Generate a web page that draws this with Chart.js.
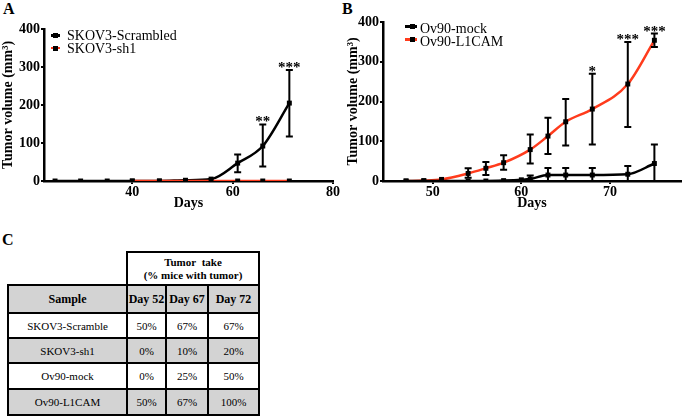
<!DOCTYPE html>
<html>
<head>
<meta charset="utf-8">
<script src="https://cdn.jsdelivr.net/npm/chart.js@4/dist/chart.umd.min.js"></script>
<style>
  body { margin:0; background:#fff; width:685px; height:416px; position:relative; overflow:hidden;
         font-family:"Liberation Serif","Times New Roman",serif; color:#000; }
  .panel { position:absolute; font-weight:bold; font-size:16px; line-height:16px; }
  canvas { position:absolute; top:0; }
  #ca { left:0; }
  #cb { left:345px; }
  .leg { position:absolute; font-size:14px; line-height:12.5px; white-space:nowrap; }
  .leg .row { position:relative; height:12.5px; }
  .sym { position:absolute; height:2.5px; }
  .sq { position:absolute; width:5px; height:5px; background:#000; }
  table { position:absolute; left:7px; top:251px; border-collapse:collapse; table-layout:fixed;
          font-family:"Liberation Serif","Times New Roman",serif; }
  td { border:2px solid #000; text-align:center; padding:0; font-size:11px;
       font-family:"Liberation Serif","Times New Roman",serif; }
  td.h { font-weight:bold; font-size:12px; }
  tr.g td { background:#d3d3d3; }
  td.empty { border-top:none; border-left:none; background:#fff; }
</style>
</head>
<body>
<div class="panel" style="left:3px;top:1px">A</div>
<div class="panel" style="left:342px;top:1px">B</div>
<div class="panel" style="left:2px;top:232px">C</div>

<canvas id="ca" width="350" height="212"></canvas>
<canvas id="cb" width="340" height="212"></canvas>

<div class="leg" style="left:51px;top:30px">
  <div class="row"><span class="sym" style="left:0;width:9px;top:4px;background:#000"></span><span class="sq" style="left:2px;top:3px"></span><span style="position:absolute;left:16px">SKOV3-Scrambled</span></div>
  <div class="row"><span class="sym" style="left:0;width:9px;top:4px;background:#ff3b1c"></span><span class="sq" style="left:2px;top:3px"></span><span style="position:absolute;left:16px">SKOV3-sh1</span></div>
</div>
<div class="leg" style="left:405px;top:22px;line-height:13.3px">
  <div class="row" style="height:13.3px"><span class="sym" style="left:0;width:12px;top:3px;background:#000"></span><span class="sq" style="left:5px;top:2px"></span><span style="position:absolute;left:15px">Ov90-mock</span></div>
  <div class="row" style="height:13.3px"><span class="sym" style="left:0;width:12px;top:3px;background:#ff3b1c"></span><span class="sq" style="left:5px;top:2px"></span><span style="position:absolute;left:15px">Ov90-L1CAM</span></div>
</div>

<table id="tbl">
  <colgroup><col style="width:119px"><col style="width:39px"><col style="width:42px"><col style="width:51px"></colgroup>
</table>

<script>
// Panel A
const daysA = [24.6, 29.7, 35, 40, 45.4, 50.6, 55.7, 61, 66, 71.3];
const scrambled = [0, 0, 0, 0, 0, 2, 5, 47, 92, 205];
const scrambledLow = [null, null, null, null, null, null, null, 23, 38, 117];
const scrambledHigh = [null, null, null, null, null, null, null, 70, 149, 292];
const starsA = ['', '', '', '', '', '', '', '', '**', '***'];
const daysSh1 = [40, 45.4, 50.6, 55.7, 61, 66, 71.3];
const sh1 = [0, 0, 0, 0, 0, 0, 0];

// Panel B
const daysMock = [47, 49, 51, 54, 56, 58, 60, 61, 63, 65, 68, 72, 75];
const mock = [0, 0, 0, 0, 0, 1, 3, 5, 15, 15, 15, 17, 44];
const mockLow = [null, null, null, null, null, null, null, 0, 0, 0, 0, 0, 0];
const mockHigh = [null, null, null, null, null, null, null, 14, 33, 33, 33, 38, 92];
const daysL1 = [47, 49, 51, 54, 56, 58, 61, 63, 65, 68, 72, 75];
const l1cam = [0, 1, 4, 19, 32, 46, 79, 113, 149, 181, 244, 354];
const l1Low = [null, null, null, 8, 15, 28, 44, 68, 89, 92, 136, 337];
const l1High = [null, null, null, 32, 48, 65, 117, 159, 206, 270, 350, 371];
const starsB = ['', '', '', '', '', '', '', '', '', '*', '***', '***'];

// Panel C
const tableCols = ['Day 52', 'Day 67', 'Day 72'];
const samples = ['SKOV3-Scramble', 'SKOV3-sh1', 'Ov90-mock', 'Ov90-L1CAM'];
const take52 = ['50%', '0%', '0%', '50%'];
const take67 = ['67%', '10%', '25%', '67%'];
const take72 = ['67%', '20%', '50%', '100%'];

const red = '#ff3b1c';
const serif = 'Liberation Serif';
const boldFont = { family: serif, size: 14, weight: 'bold' };

function pts(xs, ys) { return xs.map((x, i) => ({ x: x, y: ys[i] })); }

function errorBars(sets) {
  return {
    id: 'errorBars',
    afterDatasetsDraw(chart) {
      const ctx = chart.ctx, x = chart.scales.x, y = chart.scales.y;
      ctx.save();
      ctx.strokeStyle = '#000';
      ctx.fillStyle = '#000';
      ctx.lineWidth = 2;
      sets.forEach(s => {
        s.x.forEach((d, i) => {
          if (s.high[i] == null) return;
          const px = x.getPixelForValue(d);
          const t = y.getPixelForValue(s.high[i]);
          const b = y.getPixelForValue(s.low[i]);
          ctx.beginPath();
          ctx.moveTo(px, t); ctx.lineTo(px, b);
          ctx.moveTo(px - 3.5, t); ctx.lineTo(px + 3.5, t);
          ctx.moveTo(px - 3.5, b); ctx.lineTo(px + 3.5, b);
          ctx.stroke();
          if (s.stars && s.stars[i]) {
            ctx.font = 'bold 15px "' + serif + '"';
            ctx.textAlign = 'center';
            ctx.textBaseline = 'alphabetic';
            ctx.fillText(s.stars[i], px, t + 2);
          }
        });
      });
      ctx.restore();
    }
  };
}

function lineSet(label, data, color, order) {
  return {
    label: label, data: data, borderColor: color, borderWidth: 2.5,
    pointStyle: 'rect', pointRadius: 3.5, pointBackgroundColor: '#000', pointBorderWidth: 0,
    cubicInterpolationMode: 'monotone', order: order, fill: false
  };
}

function axes(xMin, xMax, xTicks, yWidth) {
  const common = {
    border: { color: '#000', width: 2.5 },
    grid: { drawOnChartArea: false, drawTicks: true, tickLength: 3, color: '#000', lineWidth: 2 },
  };
  return {
    x: Object.assign({}, common, {
      type: 'linear', min: xMin, max: xMax,
      afterBuildTicks: s => { s.ticks = xTicks.map(v => ({ value: v })); },
      afterFit: s => { s.height = 31; },
      ticks: { font: boldFont, color: '#000', padding: 0, maxRotation: 0 },
      title: { display: true, text: 'Days', font: boldFont, color: '#000', padding: 0 }
    }),
    y: Object.assign({}, common, {
      min: 0, max: 400,
      afterFit: s => { s.width = yWidth; },
      ticks: { stepSize: 100, font: boldFont, color: '#000', padding: 1 },
      title: { display: true, text: 'Tumor volume (mm³)', font: boldFont, color: '#000', padding: 0 }
    })
  };
}

new Chart(document.getElementById('ca'), {
  type: 'line',
  data: { datasets: [
    lineSet('SKOV3-sh1', pts(daysSh1, sh1), red, 0),
    lineSet('SKOV3-Scrambled', pts(daysA, scrambled), '#000', 1)
  ] },
  options: {
    responsive: false, animation: false,
    layout: { padding: { top: 29, right: 17, left: 0, bottom: 0 } },
    plugins: { legend: { display: false }, tooltip: { enabled: false } },
    scales: axes(22.4, 80, [40, 60, 80], 44)
  },
  plugins: [errorBars([{ x: daysA, low: scrambledLow, high: scrambledHigh, stars: starsA }])]
});

new Chart(document.getElementById('cb'), {
  type: 'line',
  data: { datasets: [
    lineSet('Ov90-mock', pts(daysMock, mock), '#000', 0),
    lineSet('Ov90-L1CAM', pts(daysL1, l1cam), red, 1)
  ] },
  options: {
    responsive: false, animation: false,
    layout: { padding: { top: 22, right: 2, left: 0, bottom: 0 } },
    plugins: { legend: { display: false }, tooltip: { enabled: false } },
    scales: axes(44.4, 78, [50, 60, 70], 38)
  },
  plugins: [errorBars([
    { x: daysMock, low: mockLow, high: mockHigh },
    { x: daysL1, low: l1Low, high: l1High, stars: starsB }
  ])]
});

// table
const tbl = document.getElementById('tbl');
let html = '<tr style="height:33px"><td class="empty"></td><td class="h" colspan="3" style="font-size:11px;line-height:13px">Tumor&nbsp; take<br>(% mice with tumor)</td></tr>';
html += '<tr class="g" style="height:28px"><td class="h">Sample</td>' + tableCols.map(c => '<td class="h">' + c + '</td>').join('') + '</tr>';
const rowH = [25, 25, 26, 26];
samples.forEach((s, i) => {
  html += '<tr' + (i % 2 ? ' class="g"' : '') + ' style="height:' + rowH[i] + 'px"><td>' + s + '</td><td>' + take52[i] + '</td><td>' + take67[i] + '</td><td>' + take72[i] + '</td></tr>';
});
tbl.insertAdjacentHTML('beforeend', html);
</script>
</body>
</html>
